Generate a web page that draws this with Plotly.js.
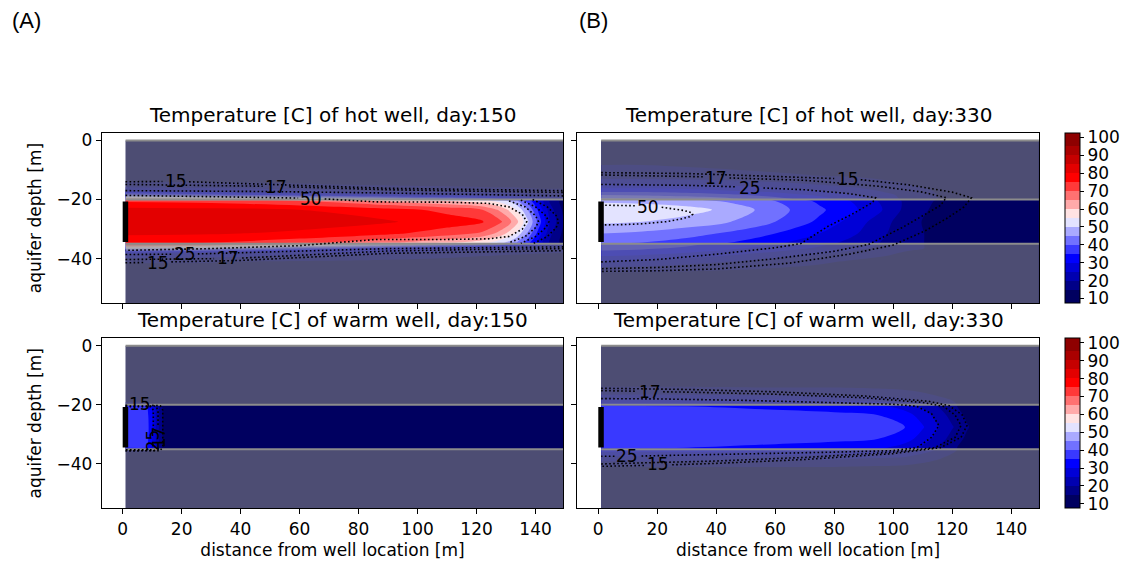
<!DOCTYPE html>
<html><head><meta charset="utf-8">
<script src="https://cdn.plot.ly/plotly-3.0.1.min.js"></script>
<style>html,body{margin:0;padding:0;background:#fff}#plot{width:1126px;height:565px}</style>
</head><body><div id="plot"></div>
<script>
// ---------------- DATA ----------------
const xTicks = [0, 20, 40, 60, 80, 100, 120, 140];
const yTicks = [0, -20, -40];
const cbTicks = [10, 20, 30, 40, 50, 60, 70, 80, 90, 100];
const levelStart = 10, levelEnd = 100, levelStep = 5;

const surfaceDepth = 0, aquiferTop = -20, aquiferBottom = -35, modelBottom = -56;
const modelLeft = 1, modelRight = 150;
const wellX = 0.95, wellTop = -20.7, wellBottom = -34.4;

const panelTitles = ['Temperature [C] of hot well, day:150', 'Temperature [C] of hot well, day:330',
                     'Temperature [C] of warm well, day:150', 'Temperature [C] of warm well, day:330'];

// depth rows of the temperature grids (shared by all panels)
const depthRows = [-56, -45, -41, -38, -36.5, -35.2, -34.5, -31.5, -27.5, -23.5, -20.5, -19.8, -18.5, -17, -15, -12, 0];

// hot well, day 150
const hot150X = [1, 30, 60, 90, 110, 122, 128, 133, 137, 141, 145, 150];
const hot150T = [
  [10.5,10.5,10.5,10.5,10.5,10.5,10.5,10.5,10.5,10.5,10.5,10.5],
  [12,12,12,12,11.5,11.5,11.5,11.5,11,11,11,11],
  [15.5,15.3,14.5,13.5,13,12.5,12.3,12,12,12,12,12],
  [27,25,23,21,18,16.5,16,15.8,15.6,15.4,15.2,15],
  [52,48,40,32,27,25,24,23,22,21,20,19],
  [68,66,60,52,46,42,38,34,31,28,26,24],
  [76,75,72,66,61,57,52,46,38,28,19,12.5],
  [81,80.5,79,76,72.5,69,63,55,45,33,21,13],
  [84,83.5,82.5,80.5,77.5,75.5,71,63,52,38,24,14],
  [82,81.5,80,77,73.5,70,64,56,46,34,22,13],
  [74,73,70,64,60,57,53,47,39,29,19,12.5],
  [62,60,55,48,42,38,35,32,29,26,24,22],
  [42,38,33,28,26,25,24,23,22,21,20,19],
  [25,23,21,19,18,17.5,17,17,16.5,16,16,16],
  [16.5,16,15.5,14.5,14,13.5,13.5,13.5,13,13,13,13],
  [12.5,12.5,12,12,12,11.5,11.5,11.5,11.5,11.5,11.5,11.5],
  [10.5,10.5,10.5,10.5,10.5,10.5,10.5,10.5,10.5,10.5,10.5,10.5]
];

// hot well, day 330
const hot330X = [1, 15, 30, 45, 60, 75, 88, 98, 106, 115, 130, 150];
const hot330T = [
  [10.5,10.5,10.5,10.5,10.5,10.5,10.5,10.5,10.5,10.5,10.5,10.5],
  [14,14,13.5,13,12.5,12,11.5,11,11,11,10.5,10.5],
  [25,24,22,20,18,16,14,13,12,11.5,11,10.5],
  [33,32,30,27,24,21,18,16,14,13,11.5,11],
  [37,36,34,31,28,24,21,18,16,14,12,11],
  [39,38,36,33,30,26,22,19,16,14,12,11],
  [41,40,38,35,31,27,23,19,16,14,12,11],
  [45,44,42,39,35,30,25,20,16,14,12,11],
  [51,50,48,45,40,34,27,21,16,13.5,12,11],
  [54,53.5,52,48.5,42,36,30,24,17,14,12,11],
  [49,48.5,47,44,40,34,29,23,18,14.5,12,11],
  [46,45.5,44,41,37,32,27,22,18,15,12,11],
  [40,39.5,38,36,33,29,25,21,18,15,12,11],
  [33,33,32,30,28,25,22,19,17,14.5,12,11],
  [25.5,25.5,25,24,22,20,18,16,15,13.5,12,11],
  [17,17,16.5,16,15.5,15,14.5,14,13,12,11,10.5],
  [10.5,10.5,10.5,10.5,10.5,10.5,10.5,10.5,10.5,10.5,10.5,10.5]
];

// warm well, day 150
const warm150X = [1, 8, 9.5, 11, 12.5, 14, 16, 150];
const warm150T = [
  [10.5,10.5,10.5,10.5,10.5,10.5,10.5,10.5],
  [10.5,10.5,10.5,10.5,10.5,10.5,10.5,10.5],
  [10.5,10.5,10.5,10.5,10.5,10.5,10.5,10.5],
  [11,11,11,10.5,10.5,10.5,10.5,10.5],
  [13,13,12.5,12,11.5,11,10.5,10.5],
  [18,18,16,14,12.5,11,10.5,10.5],
  [36,36,31,25,18,12.5,11,10.5],
  [37.5,37.5,32,26,19,13,11,10.5],
  [38,38,32.5,26,19,13,11,10.5],
  [37.5,37.5,32,26,19,13,11,10.5],
  [36,36,31,25,18,12.5,11,10.5],
  [18,18,16,14,12.5,11,10.5,10.5],
  [13,13,12.5,12,11.5,11,10.5,10.5],
  [11,11,11,10.5,10.5,10.5,10.5,10.5],
  [10.5,10.5,10.5,10.5,10.5,10.5,10.5,10.5],
  [10.5,10.5,10.5,10.5,10.5,10.5,10.5,10.5],
  [10.5,10.5,10.5,10.5,10.5,10.5,10.5,10.5]
];

// warm well, day 330
const warm330X = [1, 30, 60, 80, 95, 104, 110, 115, 120, 125, 130, 150];
const warm330T = [
  [10.5,10.5,10.5,10.5,10.5,10.5,10.5,10.5,10.5,10.5,10.5,10.5],
  [12,12,12,12,12,12,11.5,11.5,11,11,11,10.5],
  [15,15,15,15,14.5,14,13.5,13,12,11.5,11,11],
  [23,23,22,21,20,19,17,15.5,14,12.5,11.5,11],
  [28,28,27,26,25,23,20,17.5,15,13,12,11],
  [33,33,32,31,29,26,23,19.5,16,13,12,11],
  [35.5,35,34,33,31,28,24,20,16,13,12,11],
  [37.5,37,36.5,36,35,32,28,23,18,14,12,11],
  [38,38,38,37.5,37,35,30.5,25.5,20.5,15.5,12,11],
  [37.5,37,36.5,36,35,32,28,23,18,14,12,11],
  [35.5,35,34,33,31,28,24,20,16,13,12,11],
  [31,31,30,29,27,25,22,19,16,13,12,11],
  [27,26.5,26,25,24,22,19,17,15,13,12,11],
  [21,21,20.5,20,19.5,18,16.5,15,13.5,12,11.5,11],
  [16.5,16.5,16,16,15.5,15,14,13.5,12.5,12,11,11],
  [12.5,12.5,12.5,12.5,12.5,12,12,11.5,11.5,11,11,11],
  [10.5,10.5,10.5,10.5,10.5,10.5,10.5,10.5,10.5,10.5,10.5,10.5]
];

// dotted isotherm lines (x = distance [m], y = depth [m]); null = break
const hot150Iso15X = [1, 13.5, null, 22.5, 50, 90, 120, 150, null, 1, 7.5, null, 16.5, 40, 90, 120, 150, null, 139, 144, 147, 147.8, 147, 144, 139];
const hot150Iso15Y = [-14, -13.9, null, -14, -14.8, -16.2, -16.6, -17, null, -41.4, -41.3, null, -41.1, -40.6, -38.2, -37.8, -37.3, null, -20, -22.5, -25.5, -27.5, -29.5, -32.5, -35];
const hot150Iso17X = [1, 47.5, null, 56.5, 90, 120, 150, null, 1, 31, null, 40.5, 90, 120, 150, null, 135, 140, 143.5, 144.5, 143.5, 140, 135];
const hot150Iso17Y = [-14.9, -15.5, null, -15.7, -16.7, -17.2, -17.6, null, -40.3, -40, null, -39.8, -37.4, -36.9, -36.6, null, -20.2, -22.5, -25.5, -27.5, -29.5, -32.5, -34.8];
const hot150Iso25X = [1, 50, 90, 120, 150, null, 1, 16.5, null, 25.5, 90, 150, null, 131, 136.5, 140, 141, 140, 136.5, 131];
const hot150Iso25Y = [-17, -17.3, -17.8, -18.3, -18.8, null, -38.6, -38.5, null, -38.4, -36.6, -36, null, -20.5, -22.5, -25.5, -27.5, -29.5, -32.5, -34.6];
const hot150Iso50X = [1, 30, 59.5, null, 68.5, 86, 110, 124, 131, 135.5, 137, 135.5, 131, 124, 110, 86, 60, 30, 1];
const hot150Iso50Y = [-18.6, -19.1, -19.5, null, -19.8, -20.8, -20.9, -21.3, -22.5, -25, -27.5, -30, -32.5, -33.3, -33.5, -33.5, -35.6, -36.6, -37.2];
const hot150LabText = ['15', '17', '50', '25', '15', '17'];
const hot150LabX = [18.1, 52, 64, 21, 12, 35.7];
const hot150LabY = [-13.9, -15.6, -19.7, -38.5, -41.3, -39.9];

const hot330Iso15X = [1, 30, 60, 80, null, 89, 105, 120, 126.5, 124, 118, 111, 104, 100, 85, 65, 40, 20, 1];
const hot330Iso15Y = [-10.9, -11.2, -12.2, -12.9, null, -13.3, -15, -17.5, -19.4, -22.5, -26.5, -30.5, -33.5, -35.4, -38.5, -41.5, -43.5, -44.1, -44.3];
const hot330Iso17X = [1, 20, 35.5, null, 44.5, 70, 95, 110, 118, 116, 110, 103, 96, 91.6, 80, 60, 40, 20, 1];
const hot330Iso17Y = [-11.7, -11.9, -12.3, null, -12.7, -13.5, -15.5, -17.5, -19.4, -22, -25.5, -29.5, -33, -35.2, -37.5, -40, -42, -43, -43.4];
const hot330Iso25X = [1, 30, 47, null, 56, 70, 85, 94, 93, 86, 78, 71, 68.7, 60, 40, 20, 1];
const hot330Iso25Y = [-14.9, -15.2, -15.7, null, -16.1, -16.7, -18, -19.4, -21, -25, -29, -33.5, -34.9, -36.3, -38.5, -40.3, -41.1];
const hot330Iso50X = [1, 12.5, null, 21.5, 25, 29, 31.5, 32, 31, 28, 23, 15, 8, 1];
const hot330Iso50Y = [-21.9, -22.1, null, -22.6, -23, -23.7, -24.4, -25, -25.8, -26.6, -27.5, -28.2, -28.5, -28.6];
const hot330LabText = ['17', '25', '15', '50'];
const hot330LabX = [40, 51.5, 84.6, 17];
const hot330LabY = [-12.6, -16, -13.2, -22.4];

const warm150Iso15X = [1, 2, null, 10, 12.8, 13.6, 13.6, 12.8, 1];
const warm150Iso15Y = [-20.2, -20.2, null, -20.2, -20.3, -21.8, -34, -35.5, -35.6];
const warm150Iso17X = [1, 11.2, 12, 12, null, 12, 11.2, 1];
const warm150Iso17Y = [-20.4, -20.4, -21.8, -27.3, null, -34.5, -35.4, -35.4];
const warm150Iso25X = [1, 9.6, 10.4, 10.4, null, 9.8, 1];
const warm150Iso25Y = [-20.6, -20.6, -21.8, -28.4, null, -35.2, -35.2];
const warm150LabText = ['15', '25', '17'];
const warm150LabX = [6, 10.3, 12.4];
const warm150LabY = [-19.6, -32, -30.9];
const warm150LabAngle = [0, -90, -90];

const warm330Iso15X = [1, 30, 60, 90, 112, 119, 123.5, 125, 123, 116, 100, 70, 40, 24.5, null, 15.5, 1];
const warm330Iso15Y = [-14.4, -14.8, -15.6, -17, -18.8, -20.3, -23.5, -27, -31, -34.5, -36.5, -38.5, -39.8, -40.3, null, -40.5, -40.8];
const warm330Iso17X = [1, 13, null, 22, 30, 60, 90, 110, 117, 121, 123, 121, 114, 100, 70, 40, 15, 1];
const warm330Iso17Y = [-15.2, -15.4, null, -15.6, -15.7, -16.4, -17.6, -19.2, -20.5, -23.5, -27, -31, -34.5, -36, -37.8, -39, -39.8, -40];
const warm330Iso25X = [1, 20, 50, 80, 100, 108, 113, 115.5, 113, 108, 100, 80, 50, 20, 14.5, null, 5.5, 1];
const warm330Iso25Y = [-17.9, -18, -18.5, -19.2, -19.8, -20.5, -23, -27, -31, -34.5, -35.5, -36, -36.7, -37.2, -37.3, null, -37.4, -37.4];
const warm330LabText = ['17', '25', '15'];
const warm330LabX = [17.4, 9.9, 20.1];
const warm330LabY = [-15.6, -37.3, -40];

// ---------------- STYLE / LAYOUT ----------------
const W = 1126, H = 565;
const FONT = 'DejaVu Sans';
const colL = [101.7, 563.3], colR = [577.3, 1038.9];
const rowT = [133, 303], rowB = [338.3, 508.3];
const fx = p => p / W, fy = p => 1 - p / H;
const xRange = [-7.1, 149.4], yRange = [-55, 2.5];

function seismic(t) {
  const s = [[0, 0, 0, 76.5], [0.25, 0, 0, 255], [0.5, 255, 255, 255], [0.75, 255, 0, 0], [1, 127.5, 0, 0]];
  t = Math.max(0, Math.min(1, t));
  for (let i = 0; i < s.length - 1; i++) {
    if (t <= s[i + 1][0]) {
      const f = (t - s[i][0]) / (s[i + 1][0] - s[i][0]);
      return 'rgb(' + [1, 2, 3].map(j => Math.round(s[i][j] + f * (s[i + 1][j] - s[i][j]))).join(',') + ')';
    }
  }
  return 'rgb(128,0,0)';
}
const nLev = Math.round((levelEnd - levelStart) / levelStep) + 1;
const cscale = [];
for (let k = 0; k <= nLev; k++) {
  let v = levelStart - levelStep / 2 + k * levelStep;
  v = Math.min(Math.max(v, levelStart + levelStep / 2), levelEnd - levelStep / 2);
  cscale.push([k / nLev, seismic((v - levelStart) / (levelEnd - levelStart))]);
}

const panels = [
  {xs: hot150X, T: hot150T, iso: [[hot150Iso15X, hot150Iso15Y], [hot150Iso17X, hot150Iso17Y], [hot150Iso25X, hot150Iso25Y], [hot150Iso50X, hot150Iso50Y]],
   lab: [hot150LabText, hot150LabX, hot150LabY, null], col: colL, row: rowT, cb: false},
  {xs: hot330X, T: hot330T, iso: [[hot330Iso15X, hot330Iso15Y], [hot330Iso17X, hot330Iso17Y], [hot330Iso25X, hot330Iso25Y], [hot330Iso50X, hot330Iso50Y]],
   lab: [hot330LabText, hot330LabX, hot330LabY, null], col: colR, row: rowT, cb: true},
  {xs: warm150X, T: warm150T, iso: [[warm150Iso15X, warm150Iso15Y], [warm150Iso17X, warm150Iso17Y], [warm150Iso25X, warm150Iso25Y]],
   lab: [warm150LabText, warm150LabX, warm150LabY, warm150LabAngle], col: colL, row: rowB, cb: false},
  {xs: warm330X, T: warm330T, iso: [[warm330Iso15X, warm330Iso15Y], [warm330Iso17X, warm330Iso17Y], [warm330Iso25X, warm330Iso25Y]],
   lab: [warm330LabText, warm330LabX, warm330LabY, null], col: colR, row: rowB, cb: true}
];

const traces = [];
const annotations = [];
const layout = {
  width: W, height: H, margin: {l: 0, r: 0, t: 0, b: 0},
  paper_bgcolor: 'white', plot_bgcolor: 'white', showlegend: false,
  font: {family: FONT, size: 17, color: 'black'}
};

panels.forEach((p, i) => {
  const n = i + 1;
  const xa = n === 1 ? 'x' : 'x' + n, ya = n === 1 ? 'y' : 'y' + n;
  const isBottom = i >= 2, isLeft = i % 2 === 0;
  const cbar = p.cb ? {
    x: fx(1065), xanchor: 'left', xpad: 0, ypad: 0,
    y: (fy(p.row[0]) + fy(p.row[1])) / 2, yanchor: 'middle',
    len: (p.row[1] - p.row[0]) / H, lenmode: 'fraction',
    thickness: 15, thicknessmode: 'pixels',
    outlinewidth: 1, outlinecolor: 'black',
    tickmode: 'array', tickvals: cbTicks, ticks: 'outside', ticklen: 4, tickcolor: 'black',
    tickfont: {family: FONT, size: 17, color: 'black'}
  } : undefined;
  traces.push({
    type: 'contour', x: p.xs, y: depthRows, z: p.T, xaxis: xa, yaxis: ya,
    colorscale: cscale, autocontour: false,
    contours: {start: levelStart, end: levelEnd, size: levelStep, coloring: 'fill', showlines: false},
    line: {width: 0, smoothing: 0.9}, showscale: !!p.cb, colorbar: cbar, hoverinfo: 'skip'
  });
  // grey confining layers overlay
  traces.push({
    type: 'scatter', mode: 'lines', xaxis: xa, yaxis: ya, hoverinfo: 'skip',
    x: [modelLeft, modelRight, modelRight, modelLeft, modelLeft, null, modelLeft, modelRight, modelRight, modelLeft, modelLeft],
    y: [surfaceDepth, surfaceDepth, aquiferTop, aquiferTop, surfaceDepth, null, aquiferBottom, aquiferBottom, modelBottom, modelBottom, aquiferBottom],
    fill: 'toself', fillcolor: 'rgba(128,128,128,0.6)', line: {width: 0}
  });
  // layer boundary lines
  traces.push({
    type: 'scatter', mode: 'lines', xaxis: xa, yaxis: ya, hoverinfo: 'skip',
    x: [modelLeft, modelRight, null, modelLeft, modelRight, null, modelLeft, modelRight],
    y: [surfaceDepth, surfaceDepth, null, aquiferTop, aquiferTop, null, aquiferBottom, aquiferBottom],
    line: {color: 'rgb(140,140,140)', width: 2}
  });
  // dotted isotherms
  p.iso.forEach(([lx, ly]) => {
    traces.push({
      type: 'scatter', mode: 'lines', xaxis: xa, yaxis: ya, hoverinfo: 'skip', x: lx, y: ly,
      connectgaps: false, line: {color: 'black', width: 1.6, dash: '1.6px,2.4px'}
    });
  });
  // well
  traces.push({
    type: 'scatter', mode: 'lines', xaxis: xa, yaxis: ya, hoverinfo: 'skip',
    x: [wellX, wellX], y: [wellTop, wellBottom], line: {color: 'black', width: 5.5}
  });
  // isotherm labels
  const [lt, lxs, lys, lang] = p.lab;
  lt.forEach((t, k) => annotations.push({
    xref: xa, yref: ya, x: lxs[k], y: lys[k], text: t, showarrow: false,
    textangle: lang ? lang[k] : 0, xanchor: 'center', yanchor: 'middle',
    font: {family: FONT, size: 17, color: 'black'}
  }));
  // panel title
  annotations.push({
    xref: 'paper', yref: 'paper', x: (fx(p.col[0]) + fx(p.col[1])) / 2, y: fy(p.row[0]),
    yshift: 4, xanchor: 'center', yanchor: 'bottom', showarrow: false, text: panelTitles[i],
    font: {family: FONT, size: 20, color: 'black'}
  });
  const axBase = {showgrid: false, zeroline: false, showline: true, mirror: true, linecolor: 'black', linewidth: 1,
                  ticks: 'outside', ticklen: 5, tickwidth: 1, tickcolor: 'black', tickmode: 'array', fixedrange: true,
                  tickfont: {family: FONT, size: 17, color: 'black'}};
  layout[n === 1 ? 'xaxis' : 'xaxis' + n] = Object.assign({}, axBase, {
    domain: [fx(p.col[0]), fx(p.col[1])], anchor: ya, range: xRange, tickvals: xTicks,
    showticklabels: isBottom,
    title: isBottom ? {text: 'distance from well location [m]', font: {family: FONT, size: 17, color: 'black'}, standoff: 6} : {text: ''}
  });
  layout[n === 1 ? 'yaxis' : 'yaxis' + n] = Object.assign({}, axBase, {
    domain: [fy(p.row[1]), fy(p.row[0])], anchor: xa, range: yRange, tickvals: yTicks,
    showticklabels: isLeft,
    title: isLeft ? {text: 'aquifer depth [m]', font: {family: FONT, size: 17, color: 'black'}, standoff: 10} : {text: ''}
  });
});

annotations.push({xref: 'paper', yref: 'paper', x: fx(10), y: fy(20), xanchor: 'left', yanchor: 'middle', showarrow: false,
  text: '(A)', font: {family: 'Liberation Sans', size: 22, color: 'black'}});
annotations.push({xref: 'paper', yref: 'paper', x: fx(577), y: fy(20), xanchor: 'left', yanchor: 'middle', showarrow: false,
  text: '(B)', font: {family: 'Liberation Sans', size: 22, color: 'black'}});
layout.annotations = annotations;

Plotly.newPlot('plot', traces, layout, {staticPlot: true, displayModeBar: false});
</script></body></html>
